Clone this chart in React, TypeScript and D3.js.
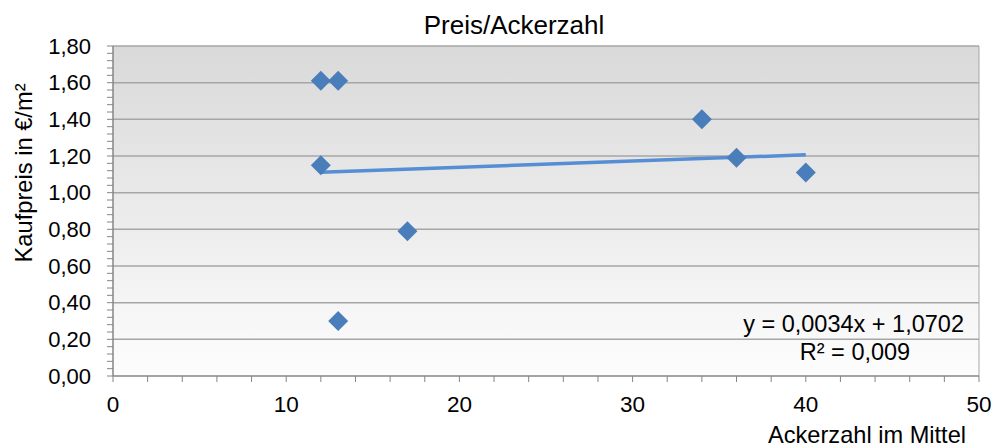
import React from "react";
import * as d3 from "d3";

const ackerzahl = [12, 13, 12, 34, 36, 40, 17, 13];
const kaufpreis = [1.61, 1.61, 1.15, 1.4, 1.19, 1.11, 0.79, 0.3];
const xTicks = [0, 10, 20, 30, 40, 50];
const yTicks = [0, 0.2, 0.4, 0.6, 0.8, 1.0, 1.2, 1.4, 1.6, 1.8];
const trendSlope = 0.0034;
const trendIntercept = 1.0702;
const trendRange = [12, 40];

const W = 994;
const H = 448;
const left = 113;
const right = 979;
const top = 46;
const bottom = 376;
const font = "'Liberation Sans', Arial, sans-serif";

export default function App() {
  const x = d3.scaleLinear().domain([0, 50]).range([left, right]);
  const y = d3.scaleLinear().domain([0, 1.8]).range([bottom, top]);
  const fmt = (v: number) => v.toFixed(2).replace(".", ",");
  const xMinor = d3.range(0, 50.001, 2);
  const yMinor = d3.range(0, 1.8001, 0.04);
  const line = d3
    .line<number>()
    .x((d) => x(d))
    .y((d) => y(trendSlope * d + trendIntercept));
  const diamond = d3.symbol().type(d3.symbolDiamond2).size(255)();
  return (
    <svg width={W} height={H} style={{ position: "absolute", left: 0, top: 0, background: "#fff" }}>
      <defs>
        <linearGradient id="bg" x1="0" y1="0" x2="0" y2="1">
          <stop offset="0" stopColor="#d9d9d9" />
          <stop offset="1" stopColor="#fdfdfd" />
        </linearGradient>
      </defs>
      <rect x={left} y={top} width={right - left} height={bottom - top} fill="url(#bg)" />
      {yTicks.slice(1).map((t) => (
        <line key={t} x1={left} x2={right} y1={y(t)} y2={y(t)} stroke="#a6a6a6" strokeWidth={1.5} />
      ))}
      <line x1={right} x2={right} y1={top} y2={bottom} stroke="#a6a6a6" strokeWidth={1} />
      {/* axes */}
      <line x1={left} x2={left} y1={top} y2={bottom} stroke="#868686" strokeWidth={1.5} />
      <line x1={left} x2={right} y1={bottom} y2={bottom} stroke="#868686" strokeWidth={1.5} />
      {yMinor.map((t, i) => (
        <line key={i} x1={left - 6} x2={left} y1={y(t)} y2={y(t)} stroke="#868686" strokeWidth={1} />
      ))}
      {xMinor.map((t, i) => (
        <line key={i} x1={x(t)} x2={x(t)} y1={bottom} y2={bottom + 6} stroke="#868686" strokeWidth={1} />
      ))}
      {yTicks.map((t) => (
        <text key={t} x={91} y={y(t)} dy="0.35em" textAnchor="end" fontFamily={font} fontSize={22} fill="#000">
          {fmt(t)}
        </text>
      ))}
      {xTicks.map((t) => (
        <text key={t} x={x(t)} y={412} textAnchor="middle" fontFamily={font} fontSize={22.5} fill="#000">
          {t}
        </text>
      ))}
      <path d={line(trendRange) || ""} stroke="#558ed5" strokeWidth={3.5} fill="none" />
      {ackerzahl.map((a, i) => (
        <path key={i} d={diamond || ""} transform={`translate(${x(a)},${y(kaufpreis[i])})`} fill="#4a7ebb" />
      ))}
      <text x={514} y={34} textAnchor="middle" fontFamily={font} fontSize={26} fill="#000">
        Preis/Ackerzahl
      </text>
      <text
        transform="translate(32,173) rotate(-90)"
        textAnchor="middle"
        fontFamily={font}
        fontSize={23.7}
        fill="#000"
      >
        Kaufpreis in €/m²
      </text>
      <text x={966} y={443} textAnchor="end" fontFamily={font} fontSize={23.6} fill="#000">
        Ackerzahl im Mittel
      </text>
      <text x={964} y={332} textAnchor="end" fontFamily={font} fontSize={23.5} fill="#000">
        y = 0,0034x + 1,0702
      </text>
      <text x={855} y={360} textAnchor="middle" fontFamily={font} fontSize={23.5} fill="#000">
        R² = 0,009
      </text>
    </svg>
  );
}
